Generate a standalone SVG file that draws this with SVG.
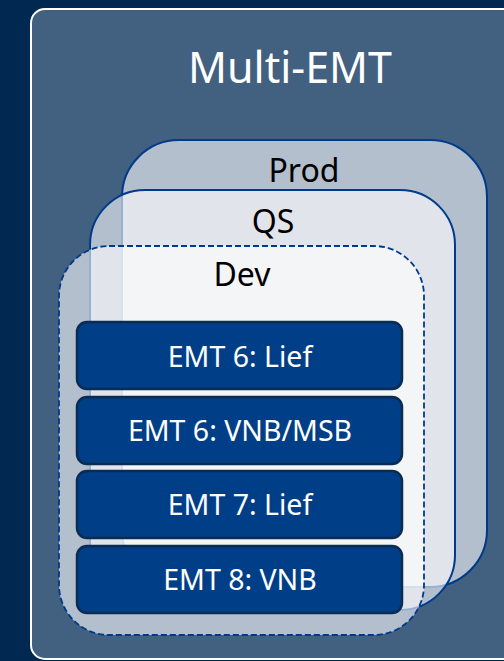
<svg xmlns="http://www.w3.org/2000/svg" width="504" height="661" viewBox="0 0 504 661">
  <style>
    .layer { fill: #ffffff; fill-opacity: 0.6; stroke: #003a8c; stroke-width: 2; }
    .dev { stroke-dasharray: 6 3; stroke-width: 1.8; }
    .lbl { font-family: "Noto Sans", "Liberation Sans", sans-serif; font-size: 32px; fill: #000000; text-anchor: middle; }
    .emt rect { fill: #003f87; stroke: #0a2c52; stroke-width: 2.5; }
    .emt text { font-family: "Noto Sans", "Liberation Sans", sans-serif; font-size: 28.5px; fill: #ffffff; text-anchor: middle; }
  </style>
  <rect x="0" y="0" width="504" height="661" fill="#002850"/>
  <g id="multi-emt">
    <rect x="31" y="9" width="500" height="650" rx="14" fill="#42607f" stroke="#ffffff" stroke-width="2"/>
    <text x="290" y="83" font-family="Noto Sans, Liberation Sans, sans-serif" font-size="43" fill="#ffffff" text-anchor="middle">Multi-EMT</text>
  </g>
  <g id="prod">
    <rect class="layer" x="122" y="140" width="365" height="447" rx="57"/>
    <text class="lbl" x="304" y="182">Prod</text>
  </g>
  <g id="qs">
    <rect class="layer" x="90" y="190" width="365" height="420" rx="55"/>
    <text class="lbl" x="273" y="233">QS</text>
  </g>
  <g id="dev">
    <rect class="layer dev" x="59" y="246" width="365" height="389" rx="50"/>
    <text class="lbl" x="242" y="286">Dev</text>
  </g>
  <g id="emt6-lief" class="emt">
    <rect x="77" y="322" width="325" height="67" rx="10"/>
    <text x="240" y="367">EMT 6: Lief</text>
  </g>
  <g id="emt6-vnb-msb" class="emt">
    <rect x="77" y="397" width="325" height="67" rx="10"/>
    <text x="240" y="441">EMT 6: VNB/MSB</text>
  </g>
  <g id="emt7-lief" class="emt">
    <rect x="77" y="471" width="325" height="67" rx="10"/>
    <text x="240" y="515">EMT 7: Lief</text>
  </g>
  <g id="emt8-vnb" class="emt">
    <rect x="77" y="546" width="325" height="67" rx="10"/>
    <text x="240" y="590">EMT 8: VNB</text>
  </g>
  <g id="connectors"/>
</svg>
